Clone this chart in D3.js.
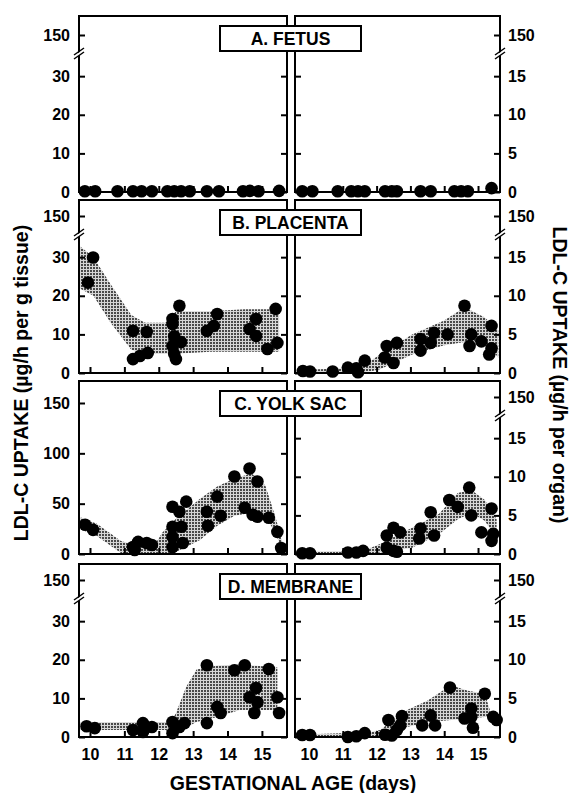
<!DOCTYPE html>
<html>
<head>
<meta charset="utf-8">
<script src="https://cdnjs.cloudflare.com/ajax/libs/d3/7.8.5/d3.min.js"></script>
<style>
  body { margin: 0; background: #fff; }
  text { font-family: "Liberation Sans", Arial, sans-serif; font-weight: bold; }
</style>
</head>
<body>
<script>

//Tick labels and panel titles
var days = [10, 11, 12, 13, 14, 15];
var tissueTicks = [0, 10, 20, 30, 150];
var yolkTicks = [0, 50, 100, 150];
var organTicks = [0, 5, 10, 15, 150];
var panelNames = ["A.  FETUS", "B.  PLACENTA", "C.  YOLK SAC", "D.  MEMBRANE"];

//Points [day, uptake] - left = per g tissue, right = per organ
var fetusTissue = [[9.85,0.2],[10.15,0.2],[10.8,0.2],[11.25,0.2],[11.5,0.2],[11.8,0.2],[12.25,0.2],[12.45,0.2],
  [12.65,0.2],[12.9,0.2],[13.4,0.2],[13.75,0.2],[14.45,0.2],[14.65,0.3],[14.9,0.2],[15.5,0.3]];
var fetusOrgan = [[9.8,0.1],[10.1,0.1],[10.85,0.1],[11.25,0.1],[11.45,0.1],[11.65,0.1],[12.25,0.1],[12.45,0.1],
  [12.6,0.1],[13.3,0.1],[13.6,0.1],[14.3,0.1],[14.5,0.1],[14.7,0.1],[15.4,0.5]];

var placentaTissue = [[9.94,23.4],[10.09,29.9],[11.25,10.9],[11.65,10.6],[11.25,3.6],[11.45,4.4],[11.68,5.2],
  [12.4,14],[12.4,12.7],[12.45,9.5],[12.4,7],[12.45,4.9],[12.5,3.6],[12.6,17.4],[12.65,8],[13.4,10.9],
  [13.6,12.2],[13.7,15.3],[14.64,11.4],[14.83,14],[14.83,9.6],[15.16,6.2],[15.4,16.6],[15.45,7.8]];
var placentaOrgan = [[9.82,0.25],[10.03,0.2],[10.7,0.2],[11.15,0.7],[11.4,0.6],[11.45,0.1],[11.65,1.6],
  [12.24,2.0],[12.3,3.5],[12.5,1.3],[12.6,3.9],[13.3,4.4],[13.3,2.9],[13.6,3.9],[13.7,5.2],[14.1,5.0],
  [14.6,8.7],[14.75,3.5],[14.8,5.0],[15.1,4.1],[15.33,2.4],[15.4,6.1],[15.4,3.2]];

var yolkTissue = [[9.86,29],[10.09,24],[11.25,7],[11.4,12],[11.65,11],[11.8,9],[11.3,4],[12.4,47],[12.6,42],
  [12.4,27],[12.4,17],[12.4,7],[12.66,27],[12.7,11],[12.8,52],[13.4,42],[13.43,28],[13.7,57],[13.8,38],
  [14.2,77],[14.5,46],[14.64,85],[14.73,39],[14.87,72],[14.87,37],[15.2,36],[15.45,22],[15.56,6]];
var yolkOrgan = [[9.8,0.1],[10.03,0.1],[11.15,0.2],[11.4,0.2],[11.6,0.4],[12.3,2.4],[12.3,0.8],[12.5,3.4],
  [12.7,2.8],[12.5,0.4],[12.6,0.3],[13.26,2.0],[13.3,3.3],[13.6,5.4],[13.7,2.4],[14.15,7.0],[14.4,6.1],
  [14.74,8.6],[14.8,5.0],[15.1,2.8],[15.4,5.9],[15.4,1.7],[15.45,2.6]];

var membraneTissue = [[9.9,2.8],[10.14,2.3],[11.25,1.8],[11.54,3.6],[11.8,2.6],[11.54,1.3],[12.4,3.9],[12.4,1.0],
  [12.6,2.6],[12.75,3.6],[13.4,18.6],[13.4,3.6],[13.7,7.8],[13.8,6.2],[14.2,17.3],[14.5,18.6],[14.64,10.3],
  [14.83,12.7],[14.78,6.2],[14.87,9.0],[15.2,17.6],[15.45,10.3],[15.5,6.2]];
var membraneOrgan = [[9.8,0.25],[10.03,0.25],[11.15,0],[11.4,0.1],[11.65,0.5],[12.25,0.3],[12.35,2.2],[12.45,0.2],
  [12.6,0.9],[12.7,1.5],[12.75,2.7],[13.35,1.5],[13.6,2.8],[13.73,1.5],[14.17,6.4],[14.6,2.4],[14.8,3.7],
  [14.8,2.6],[14.85,1.2],[15.2,5.6],[15.45,2.6],[15.55,2.2]];

//Shaded ranges [day, low, high]
var placentaTissueBand = [[9.68,22,33],[10.1,20,30],[10.6,13,23],[11.2,6,15],[11.6,5,13],[12.2,5,13],
  [12.5,5,16],[13.5,5.5,16],[14.5,5.5,16.5],[15.5,5.5,16.5]];
var placentaOrganBand = [[9.6,0,0.4],[11.2,0,0.6],[11.8,0.2,1.5],[12.1,0.5,2.4],[13.05,2.4,5.0],[14.0,3.6,6.8],
  [14.6,4,8.5],[15.2,4,7.2],[15.6,2,5.5]];
var yolkTissueBand = [[9.68,25,37],[10.2,18,30],[10.9,1,13],[11.3,0,9],[11.9,0,10],[12.1,0,21],[12.5,2,35],
  [13.2,14,55],[13.7,28,67],[14.2,38,75],[14.7,41,80],[15.1,37,68],[15.4,21,36],[15.6,2,11]];
var yolkOrganBand = [[9.6,0,0.3],[11.6,0,0.4],[12.1,0.2,1.3],[13.05,0.8,3.4],[13.85,2.6,5.2],[14.4,4.5,7.9],
  [14.8,5.3,8.3],[15.2,4.3,7.0],[15.55,2.0,4.5]];
var membraneTissueBand = [[9.68,1.8,3.8],[12.2,1.8,3.9],[12.4,0.5,4.5],[12.5,0.5,6.2],[12.8,2.5,13],
  [13.1,3.9,17.5],[13.7,5.2,18.5],[14.35,7,18.8],[15.45,7,18]];
var membraneOrganBand = [[9.6,0,0.3],[11.8,0,0.6],[12.1,0.2,0.9],[12.9,1.3,3.5],[13.5,1.9,4.7],[14.2,2.2,6.7],
  [14.7,2.4,6.0],[15.2,2.6,5.6],[15.35,2.6,3.5]];

var panels = [
  { name: panelNames[0], left: fetusTissue, right: fetusOrgan, leftBand: null, rightBand: null, yolk: false },
  { name: panelNames[1], left: placentaTissue, right: placentaOrgan, leftBand: placentaTissueBand, rightBand: placentaOrganBand, yolk: false },
  { name: panelNames[2], left: yolkTissue, right: yolkOrgan, leftBand: yolkTissueBand, rightBand: yolkOrganBand, yolk: true },
  { name: panelNames[3], left: membraneTissue, right: membraneOrgan, leftBand: membraneTissueBand, rightBand: membraneOrganBand, yolk: false }
];

//Layout
var W = 570, H = 793;
var tops = [16, 200, 381, 564];
var bottoms = [192, 373, 554, 737];
var lx0 = 79, lx1 = 287, rx0 = 295, rx1 = 500;

var svg = d3.select("body").append("svg")
  .attr("width", W)
  .attr("height", H);

//halftone fill for the ranges: grid of dark grains on light grey
var pat = svg.append("defs").append("pattern")
  .attr("id", "stip")
  .attr("x", 0).attr("y", 0)
  .attr("width", 3).attr("height", 3)
  .attr("patternUnits", "userSpaceOnUse")
  .attr("shape-rendering", "crispEdges");
pat.append("rect").attr("width", 3).attr("height", 3).attr("fill", "#d6d6d6");
pat.append("rect").attr("width", 2).attr("height", 2).attr("fill", "#4a4a4a");

var xL = d3.scaleLinear().domain([9.68, 15.73]).range([lx0, lx1]);
var xR = d3.scaleLinear().domain([9.586, 15.65]).range([rx0, rx1]);

function breakMark(g, x, y) {
  g.append("polygon")
    .attr("points", [[x - 5, y + 3], [x + 5, y - 4], [x + 5, y - 1], [x - 5, y + 6]].join(" "))
    .attr("fill", "#fff");
  g.append("line").attr("x1", x - 5).attr("y1", y + 2).attr("x2", x + 5).attr("y2", y - 5)
    .attr("stroke", "#000").attr("stroke-width", 1.5);
  g.append("line").attr("x1", x - 5).attr("y1", y + 6).attr("x2", x + 5).attr("y2", y - 1)
    .attr("stroke", "#000").attr("stroke-width", 1.5);
}

function styleAxis(g, showLabels) {
  g.select(".domain").remove();
  g.selectAll(".tick line").attr("stroke-width", 2);
  g.selectAll(".tick text")
    .attr("font-size", "16px")
    .attr("font-family", "'Liberation Sans', Arial, sans-serif")
    .attr("fill", "#000");
  if (!showLabels) g.selectAll(".tick text").remove();
}

panels.forEach(function (p, i) {
  var b = bottoms[i], t = tops[i];
  var yL = p.yolk
    ? d3.scaleLinear().domain([0, 150]).range([b, b - 151])
    : d3.scaleLinear().domain([0, 36, 150]).range([b, b - 139, b - 157]);
  var yR = d3.scaleLinear().domain([0, 18, 150]).range([b, b - 139, b - 157]);
  var leftTicks = p.yolk ? yolkTicks : tissueTicks;

  var g = svg.append("g");

  //shaded ranges
  [[p.leftBand, xL, yL], [p.rightBand, xR, yR]].forEach(function (s) {
    if (!s[0]) return;
    var area = d3.area()
      .x(function (d) { return s[1](d[0]); })
      .y0(function (d) { return s[2](d[1]); })
      .y1(function (d) { return s[2](d[2]); });
    g.append("path").datum(s[0]).attr("d", area).attr("fill", "url(#stip)");
  });

  //frames
  g.append("rect").attr("x", lx0).attr("y", t).attr("width", lx1 - lx0).attr("height", b - t)
    .attr("fill", "none").attr("stroke", "#000").attr("stroke-width", 2);
  g.append("rect").attr("x", rx0).attr("y", t).attr("width", rx1 - rx0).attr("height", b - t)
    .attr("fill", "none").attr("stroke", "#000").attr("stroke-width", 2);

  //y axes
  g.append("g").attr("transform", "translate(" + lx0 + ",0)")
    .call(d3.axisLeft(yL).tickValues(leftTicks).tickSize(-6).tickPadding(9).tickFormat(d3.format("d")))
    .call(styleAxis, true);
  g.append("g").attr("transform", "translate(" + lx1 + ",0)")
    .call(d3.axisRight(yL).tickValues(leftTicks.filter(function (v) { return v < 150; })).tickSize(-6))
    .call(styleAxis, false);
  g.append("g").attr("transform", "translate(" + rx0 + ",0)")
    .call(d3.axisLeft(yR).tickValues(organTicks.filter(function (v) { return v < 150; })).tickSize(-6))
    .call(styleAxis, false);
  g.append("g").attr("transform", "translate(" + rx1 + ",0)")
    .call(d3.axisRight(yR).tickValues(organTicks).tickSize(-6).tickPadding(8).tickFormat(d3.format("d")))
    .call(styleAxis, true);

  //x axes
  g.append("g").attr("transform", "translate(0," + b + ")")
    .call(d3.axisBottom(xL).tickValues(days).tickSize(-6).tickPadding(12).tickFormat(d3.format("d")))
    .call(styleAxis, i === 3);
  g.append("g").attr("transform", "translate(0," + b + ")")
    .call(d3.axisBottom(xR).tickValues(days).tickSize(-6).tickPadding(12).tickFormat(d3.format("d")))
    .call(styleAxis, i === 3);

  //axis breaks
  if (!p.yolk) breakMark(g, lx0, yL(36));
  breakMark(g, rx1, yR(18));

  //points
  g.selectAll("circle.l").data(p.left).enter().append("circle")
    .attr("cx", function (d) { return xL(d[0]); })
    .attr("cy", function (d) { return yL(d[1]); })
    .attr("r", 6.3)
    .style("fill", "#000");
  g.selectAll("circle.r").data(p.right).enter().append("circle")
    .attr("cx", function (d) { return xR(d[0]); })
    .attr("cy", function (d) { return yR(d[1]); })
    .attr("r", 6.3)
    .style("fill", "#000");

  //panel label box
  g.append("rect").attr("x", 220).attr("y", t + 10).attr("width", 141).attr("height", 25)
    .attr("fill", "#fff").attr("stroke", "#000").attr("stroke-width", 2);
  g.append("text").attr("x", 290.5).attr("y", t + 29)
    .attr("text-anchor", "middle")
    .attr("font-size", "17.5px")
    .text(p.name);
});

//Axis titles
svg.append("text")
  .attr("x", 293).attr("y", 790)
  .attr("text-anchor", "middle")
  .attr("font-size", "19.5px")
  .text("GESTATIONAL AGE (days)");
svg.append("text")
  .attr("transform", "translate(28,383) rotate(-90)")
  .attr("text-anchor", "middle")
  .attr("font-size", "19.5px")
  .text("LDL-C UPTAKE (µg/h per g tissue)");
svg.append("text")
  .attr("transform", "translate(553,375) rotate(90)")
  .attr("text-anchor", "middle")
  .attr("font-size", "19.5px")
  .text("LDL-C UPTAKE (µg/h per organ)");

</script>
</body>
</html>
